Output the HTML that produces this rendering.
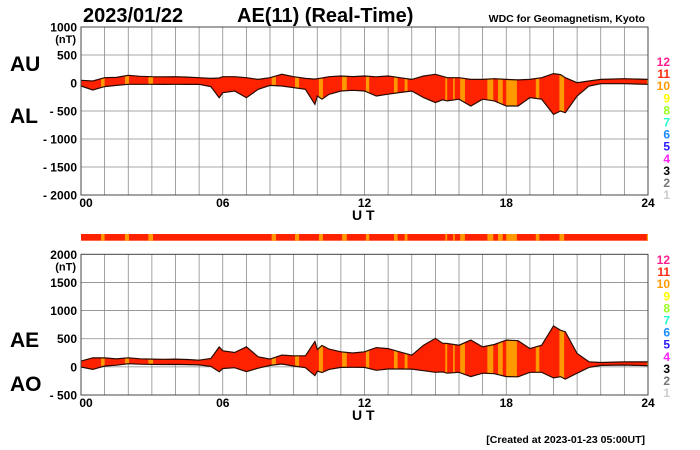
<!DOCTYPE html>
<html><head><meta charset="utf-8"><style>
html,body{margin:0;padding:0;background:#fff;}
svg{display:block;font-family:"Liberation Sans",Arial,sans-serif;}
</style></head><body>
<svg id="c" width="700" height="450" viewBox="0 0 700 450" xmlns="http://www.w3.org/2000/svg">
<text x="83" y="22" font-size="20" font-weight="bold">2023/01/22</text>
<text x="237" y="22" font-size="20" font-weight="bold">AE(11) (Real-Time)</text>
<text x="645" y="22" font-size="10.5" font-weight="bold" text-anchor="end">WDC for Geomagnetism, Kyoto</text>
<text x="10" y="71" font-size="21" font-weight="bold">AU</text>
<text x="10" y="123" font-size="21" font-weight="bold">AL</text>
<text x="10" y="347" font-size="21" font-weight="bold">AE</text>
<text x="10" y="391" font-size="21" font-weight="bold">AO</text>
<text x="645" y="443" font-size="10.5" font-weight="bold" text-anchor="end">[Created at 2023-01-23 05:00UT]</text>
</svg>
<script>
const hours = [0,0.5,1,1.5,2,2.5,3,3.5,4,4.5,5,5.5,5.85,6,6.5,7,7.5,8,8.5,9,9.5,9.9,10,10.2,10.5,11,11.5,12,12.5,13,13.5,14,14.5,15,15.3,15.5,16,16.5,17,17.5,18,18.5,19,19.5,20,20.3,20.5,21,21.5,22,23,24];
const auValues = [48,36,95,100,137,120,113,110,113,105,95,83,90,113,113,95,65,95,155,113,83,70,77,90,113,125,115,125,110,125,95,65,125,155,120,95,95,65,65,77,65,55,65,95,167,150,95,5,35,65,77,65];
const alValues = [-54,-125,-65,-42,-24,-24,-24,-25,-24,-25,-24,-65,-262,-173,-143,-262,-113,-42,-54,-83,-113,-380,-232,-290,-202,-143,-131,-143,-232,-200,-170,-143,-260,-350,-300,-320,-290,-410,-290,-320,-410,-410,-260,-290,-560,-500,-530,-232,-55,-12,-12,-24];
const orangeStart = [0.85,1.86,2.85,8.07,9.06,10.07,11.05,12.06,13.25,13.7,15.42,15.75,16.05,17.2,17.65,18.0,19.25,20.25,23.95];
const orangeEnd   = [1.0,2.03,3.05,8.25,9.23,10.24,11.25,12.2,13.4,13.82,15.5,15.82,16.25,17.45,17.85,18.45,19.4,20.45,24];
const topTicks = [1000,500,0,-500,-1000,-1500,-2000];
const botTicks = [2000,1500,1000,500,0,-500];
const xTickLabels = ["00","06","12","18","24"];
const legendNums = [12,11,10,9,8,7,6,5,4,3,2,1];
const legendColors = ["#ff1f8f","#ff2a10","#ff9900","#ffff00","#99ff22","#22ffcc","#1a8cff","#2a1aff","#ff22ff","#000000","#777777","#cccccc"];

const NS="http://www.w3.org/2000/svg";
const svg=document.getElementById('c');
const X0=81,X1=648;
const xs=h=>X0+(X1-X0)*h/24;
function mk(tag,attrs,parent){const e=document.createElementNS(NS,tag);for(const k in attrs)e.setAttribute(k,attrs[k]);(parent||svg).appendChild(e);return e;}

const aeValues=auValues.map((u,i)=>u-alValues[i]);
const aoValues=auValues.map((u,i)=>(u+alValues[i])/2);

function panel(id,yTop,yBot,vMax,vMin,ticks,upper,lower,legTop){
  const ys=v=>yTop+(vMax-v)*(yBot-yTop)/(vMax-vMin);
  const g=mk('g',{});
  
  
  for(let h=1;h<24;h++){
    const l=mk('line',{x1:xs(h),x2:xs(h),y1:yTop,y2:yBot,stroke:'#8a8a8a','stroke-width':0.8},g);
    
    
  }
  ticks.forEach((t,i)=>{
    const y=ys(t);
    if(i>0&&i<ticks.length-1){
      const l=mk('line',{x1:X0,x2:X1,y1:y,y2:y,stroke:'#8a8a8a','stroke-width':0.8},g);
      
      
    }
    const tx=mk('text',{x:77,y:y+4.5,'font-size':12,'font-weight':'bold','text-anchor':'end'},g);
    tx.textContent=(t<0?'- '+(-t):String(t));
    
    
  });
  const nt=mk('text',{x:76,y:ys(ticks[0])+16,'font-size':11,'font-weight':'bold','text-anchor':'end'},g);
  nt.textContent='(nT)';
  
  
  // band
  let pts=hours.map((h,i)=>xs(h).toFixed(1)+','+ys(upper[i]).toFixed(1));
  let pts2=hours.map((h,i)=>xs(h).toFixed(1)+','+ys(lower[i]).toFixed(1)).reverse();
  const cp=mk('clipPath',{id:'clip-'+id},g);
  mk('polygon',{points:pts.concat(pts2).join(' ')},cp);
  const band=mk('g',{'clip-path':'url(#clip-'+id+')'},g);
  
  
  mk('rect',{x:X0,y:yTop,width:X1-X0,height:yBot-yTop,fill:'#ff2200'},band);
  orangeStart.forEach((s,i)=>{
    const r=mk('rect',{x:xs(s),y:yTop,width:xs(orangeEnd[i])-xs(s),height:yBot-yTop,fill:'#ff9900'},band);
    
    
  });
  const lu=mk('polyline',{points:pts.join(' '),fill:'none',stroke:'#2a0a00','stroke-width':1.2},g);
  
  
  const ll=mk('polyline',{points:pts2.join(' '),fill:'none',stroke:'#2a0a00','stroke-width':1.2},g);
  
  
  const fr=mk('rect',{x:X0,y:yTop,width:X1-X0,height:yBot-yTop,fill:'none',stroke:'#444','stroke-width':1},g);
  
  
  xTickLabels.forEach((t,i)=>{
    const tx=mk('text',{x:xs(i*6)+(i==0?5:0),y:yBot+12,'font-size':12,'font-weight':'bold','text-anchor':'middle'},g);
    tx.textContent=t;
    
    
  });
  const ut=mk('text',{x:352,y:yBot+25,'font-size':14,'font-weight':'bold'},g);
  ut.textContent='U T';
  
  
  legendNums.forEach((n,i)=>{
    const tx=mk('text',{x:670,y:legTop+i*12.1,'font-size':12,'font-weight':'bold','text-anchor':'end',fill:legendColors[i]},g);
    tx.textContent=String(n);
    
    
  });
}
panel('au-al',27,195,1000,-2000,topTicks,auValues,alValues,66);
panel('ae-ao',254.3,395,2000,-500,botTicks,aeValues,aoValues,264);
// color bar
const cb=mk('g',{});


mk('rect',{x:X0,y:234,width:X1-X0,height:6.7,fill:'#ff2200'},cb);
orangeStart.forEach((s,i)=>{
  const r=mk('rect',{x:xs(s),y:234,width:xs(orangeEnd[i])-xs(s),height:6.7,fill:'#ff9900'},cb);
  
  
});
</script>
</body></html>
